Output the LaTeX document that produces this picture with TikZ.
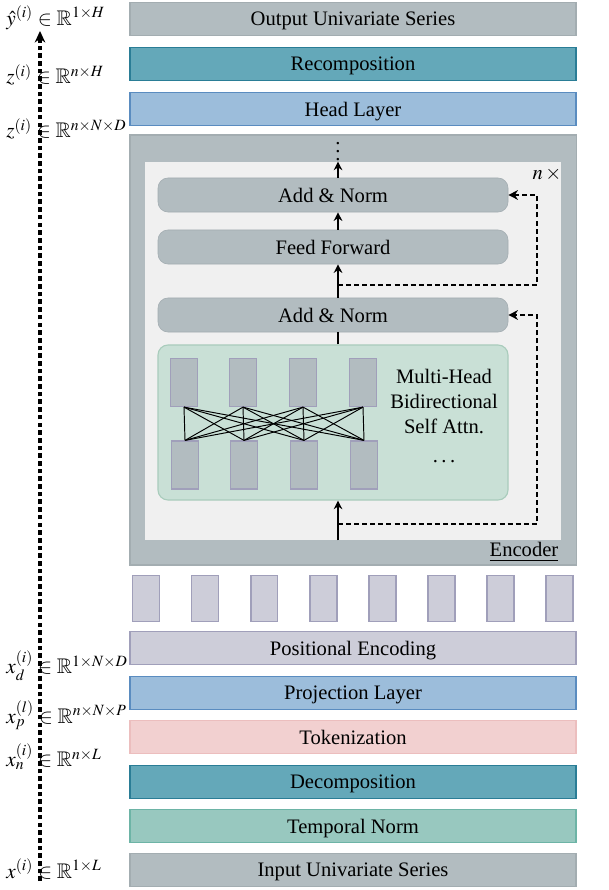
\documentclass[tikz,border=0pt]{standalone}
\usepackage{mathptmx}
\usepackage{amssymb}
\usepackage{fontspec}
\setmainfont{Liberation Serif}
\usepackage{xcolor}
\usetikzlibrary{arrows.meta}

\definecolor{grayfill}{HTML}{B2BCC0}
\definecolor{graydraw}{HTML}{A3ADB1}
\definecolor{tealfill}{HTML}{64A8B9}
\definecolor{tealdraw}{HTML}{2A7D96}
\definecolor{bluefill}{HTML}{9CBDDB}
\definecolor{bluedraw}{HTML}{5A8CC0}
\definecolor{pinkfill}{HTML}{F2D0D0}
\definecolor{pinkdraw}{HTML}{ECBEBE}
\definecolor{mintfill}{HTML}{98C8BF}
\definecolor{mintdraw}{HTML}{6DB4A6}
\definecolor{lavfill}{HTML}{CDCDD9}
\definecolor{lavdraw}{HTML}{A09FBA}
\definecolor{greenfill}{HTML}{C9E0D6}
\definecolor{greendraw}{HTML}{A9CCBC}
\definecolor{innerfill}{HTML}{F0F0F0}

\begin{document}
\begin{tikzpicture}[x=0.52pt, y=-0.52pt, every node/.style={font=\fontsize{10.7}{13}\selectfont},
    layer/.style={draw, line width=0.8pt, minimum width=232pt, minimum height=17.2pt, inner sep=0pt, text depth=0pt},
    block/.style={fill=grayfill, draw=graydraw, line width=0.3pt, rounded corners=5.2pt, minimum width=182pt, minimum height=17.7pt, inner sep=0pt, text depth=0pt},
    token/.style={fill=lavfill, draw=lavdraw, line width=0.8pt, minimum width=14pt, minimum height=24pt, inner sep=0pt},
    head/.style={fill=grayfill, draw=lavdraw, line width=0.6pt, minimum width=14pt, minimum height=25pt, inner sep=0pt},
    flow/.style={-{Stealth[length=4.5pt, width=4.5pt]}, line width=0.8pt},
    resid/.style={-{Stealth[length=5pt, width=5pt]}, line width=1.1pt, dash pattern=on 2.6pt off 1.6pt},
    dim/.style={anchor=west, inner sep=0pt, font=\fontsize{11}{13}\selectfont}]
    \useasboundingbox (0,0) rectangle (608,890);

    % Encoder background
    \node[fill=grayfill, draw=graydraw, line width=0.6pt, minimum width=232pt, minimum height=223.6pt, inner sep=0pt] (enc) at (353,350) {};
    \node[fill=innerfill, minimum width=216.3pt, minimum height=196.6pt, inner sep=0pt] (inner) at (353,351) {};
    \node (enclabel) at (524,552) {\underline{Encoder}};
    \node (reps) at (547,174) {$n\,\times$};
    \coordinate (spine) at (338,0);

    % Encoder blocks
    \node[block] (an1) at (333,195) {Add \& Norm};
    \node[block] (ff) at (333,247) {Feed Forward};
    \node[block] (an2) at (333,315) {Add \& Norm};
    \node[fill=greenfill, draw=greendraw, line width=0.6pt, rounded corners=5.2pt, minimum width=182pt, minimum height=80.6pt, inner sep=0pt] (mha) at (333,422.5) {};

    % Attention heads
    \foreach \i/\x in {1/184,2/243,3/303,4/363} {
        \node[head] (q\i) at (\x,382.5) {};
        \node[head] (k\i) at (\x+1,465) {};
    }
    \foreach \i in {1,...,4}
        \foreach \j in {1,...,4}
            \draw[line width=0.5pt] (q\i.south) -- (k\j.north);
    \node[align=center] (mhatext) at (444,402) {Multi-Head\\Bidirectional\\Self Attn.};
    \node (mhadots) at (444,462) {.\,.\,.};

    % Data flow in the encoder
    \draw[flow] (inner.south -| spine) -- (mha.south -| spine);
    \draw[line width=0.8pt] (mha.north -| spine) -- (an2.south -| spine);
    \draw[flow] (an2.north -| spine) -- (ff.south -| spine);
    \draw[flow] (ff.north -| spine) -- (an1.south -| spine);
    \draw[flow] (an1.north -| spine) -- (inner.north -| spine);
    \node[inner sep=0pt] (vdots) at (338,146) {$\vdots$};

    % Residual connections
    \coordinate (r1) at (338,524);
    \coordinate (r2) at (338,285);
    \draw[resid] (r1) -- ++(199,0) |- (an2.east);
    \draw[resid] (r2) -- ++(199,0) |- (an1.east);

    % Top layers
    \node[layer, fill=grayfill, draw=graydraw] (output) at (353,19) {Output Univariate Series};
    \node[layer, fill=tealfill, draw=tealdraw] (recomp) at (353,64) {Recomposition};
    \node[layer, fill=bluefill, draw=bluedraw] (headlayer) at (353,109) {Head Layer};

    % Tokens
    \foreach \i in {0,...,7}
        \node[token] (t\i) at (146+59.1*\i,598.5) {};

    % Bottom layers
    \node[layer, fill=lavfill, draw=lavdraw] (posenc) at (353,648) {Positional Encoding};
    \node[layer, fill=bluefill, draw=bluedraw] (proj) at (353,693) {Projection Layer};
    \node[layer, fill=pinkfill, draw=pinkdraw] (tok) at (353,737) {Tokenization};
    \node[layer, fill=tealfill, draw=tealdraw] (decomp) at (353,782) {Decomposition};
    \node[layer, fill=mintfill, draw=mintdraw] (tnorm) at (353,826) {Temporal Norm};
    \node[layer, fill=grayfill, draw=graydraw] (input) at (353,870) {Input Univariate Series};

    % Shapes along the way
    \coordinate (lbot) at (40,881);
    \coordinate (ltop) at (40,31);
    \draw[-{Stealth[length=6pt, width=5.5pt]}, line width=1.8pt, dash pattern=on 2.4pt off 1.6pt] (lbot) -- (ltop);
    \node[dim] (dy) at (6,18) {$\hat{y}^{(i)} \in \mathbb{R}^{1\times H}$};
    \node[dim] (dz1) at (6,75) {$z^{(i)} \in \mathbb{R}^{n\times H}$};
    \node[dim] (dz2) at (6,129) {$z^{(i)} \in \mathbb{R}^{n\times N\times D}$};
    \node[dim] (dxd) at (6,666) {$x_d^{(i)} \in \mathbb{R}^{1\times N\times D}$};
    \node[dim] (dxp) at (6,715) {$x_p^{(l)} \in \mathbb{R}^{n\times N\times P}$};
    \node[dim] (dxn) at (6,757) {$x_n^{(i)} \in \mathbb{R}^{n\times L}$};
    \node[dim] (dx) at (6,869) {$x^{(i)} \in \mathbb{R}^{1\times L}$};
\end{tikzpicture}
\end{document}
